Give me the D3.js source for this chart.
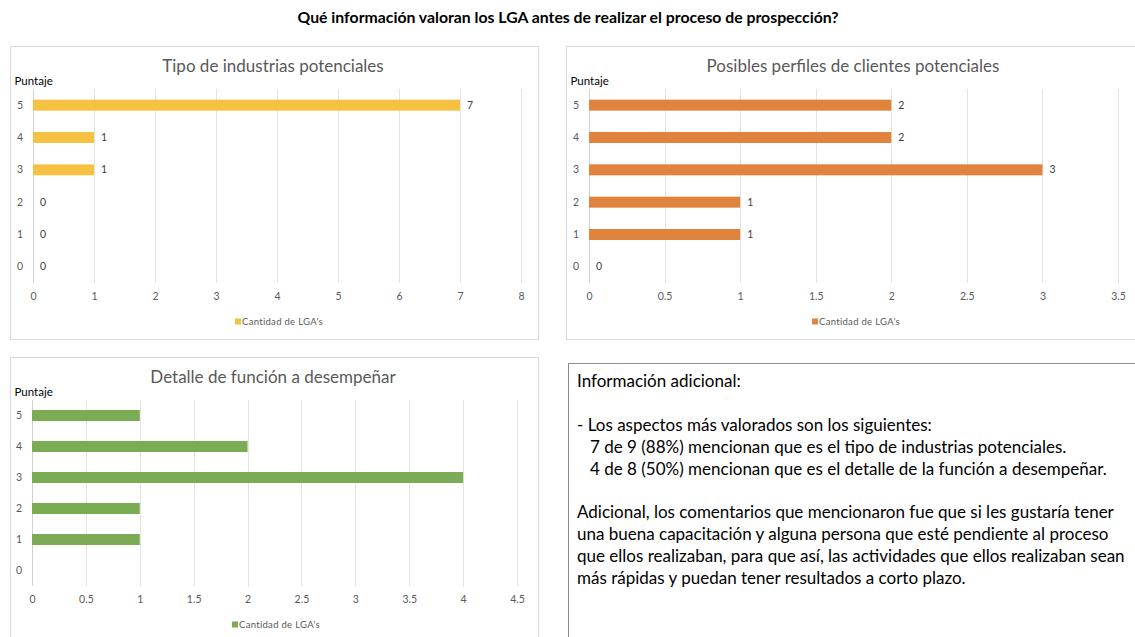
<!DOCTYPE html>
<html><head><meta charset="utf-8">
<script src="https://cdn.jsdelivr.net/npm/d3@7"></script>
<style>
body{margin:0;background:#fff;}
svg{display:block;font-family:Lato,"Open Sans",sans-serif;}
</style></head>
<body>
<svg id="c" width="1135" height="637"></svg>
<script>
const categories = ["5","4","3","2","1","0"];
const industrias = [7,1,1,0,0,0];
const perfiles = [2,2,3,1,1,0];
const funcion = [1,2,4,1,1,0];
const ticksA = [0,1,2,3,4,5,6,7,8];
const ticksB = [0,0.5,1,1.5,2,2.5,3,3.5];
const ticksC = [0,0.5,1,1.5,2,2.5,3,3.5,4,4.5];
const mainTitle = "Qué información valoran los LGA antes de realizar el proceso de prospección?";
const legendLabel = "Cantidad de LGA's";
const infoLines = [
  "Información adicional:",
  "",
  "- Los aspectos más valorados son los siguientes:",
  "   7 de 9 (88%) mencionan que es el tipo de industrias potenciales.",
  "   4 de 8 (50%) mencionan que es el detalle de la función a desempeñar.",
  "",
  "Adicional, los comentarios que mencionaron fue que si les gustaría tener",
  "una buena capacitación y alguna persona que esté pendiente al proceso",
  "que ellos realizaban, para que así, las actividades que ellos realizaban sean",
  "más rápidas y puedan tener resultados a corto plazo."
];

const svg = d3.select("#c");

svg.append("text").attr("x",568).attr("y",23).attr("text-anchor","middle")
  .attr("font-size",15.8).attr("font-weight","bold").attr("fill","#000").text(mainTitle);

function panel(o){
  const g = svg.append("g");
  g.append("rect").attr("x",o.box[0]).attr("y",o.box[1]).attr("width",o.box[2]).attr("height",o.box[3])
    .attr("fill","#fff").attr("stroke","#d9d9d9").attr("stroke-width",1);
  g.append("text").attr("x",o.titleX).attr("y",o.titleY).attr("text-anchor","middle")
    .attr("font-size",17).attr("fill","#595959").text(o.title);
  g.append("text").attr("x",o.box[0]+4).attr("y",o.titleY+13).attr("font-size",11.5)
    .attr("fill","#000").text("Puntaje");
  const x = d3.scaleLinear().domain(o.domain).range(o.xr);
  const y = d3.scaleBand().domain(categories).range(o.yr);
  g.selectAll("line.grid").data(o.ticks).join("line")
    .attr("x1",d=>Math.round(x(d))+0.5).attr("x2",d=>Math.round(x(d))+0.5)
    .attr("y1",o.yr[0]).attr("y2",o.yr[1]).attr("stroke",(d,i)=>i===0?"#d0d0d0":"#e3e3e3").attr("stroke-width",1);
  const xa = g.append("g").attr("transform",`translate(0,${o.yr[1]})`)
    .call(d3.axisBottom(x).tickValues(o.ticks).tickSize(0).tickPadding(10).tickFormat(d=>String(d)));
  xa.select(".domain").remove();
  xa.selectAll("text").attr("font-size",10.5).attr("fill","#595959").attr("font-family","Lato,'Open Sans',sans-serif");
  const ya = g.append("g").attr("transform",`translate(${o.xr[0]},0)`)
    .call(d3.axisLeft(y).tickSize(0).tickPadding(10));
  ya.select(".domain").remove();
  ya.selectAll("text").attr("font-size",10.5).attr("fill","#595959").attr("font-family","Lato,'Open Sans',sans-serif");
  const bh = o.barH;
  g.selectAll("rect.bar").data(o.values).join("rect")
    .attr("x",x(0)).attr("y",(d,i)=>y(categories[i])+y.bandwidth()/2-bh/2)
    .attr("width",d=>x(d)-x(0)).attr("height",bh).attr("fill",o.color);
  if(o.labels){
    g.selectAll("text.lab").data(o.values).join("text")
      .attr("x",d=>x(d)+7).attr("y",(d,i)=>y(categories[i])+y.bandwidth()/2+3.5)
      .attr("font-size",10.5).attr("fill","#404040").text(d=>d);
  }
  g.append("rect").attr("x",o.legend[0]).attr("y",o.legend[1]-6.5).attr("width",6).attr("height",6).attr("fill",o.color);
  g.append("text").attr("x",o.legend[0]+7).attr("y",o.legend[1]).attr("font-size",9.5)
    .attr("letter-spacing",0.3).attr("fill","#595959").text(legendLabel);
}

panel({box:[10.5,46.5,528,293], title:"Tipo de industrias potenciales", titleX:273, titleY:72,
  domain:[0,8], xr:[33,521], yr:[89,283], ticks:ticksA, values:industrias, color:"#F4C143",
  barH:11, labels:true, legend:[235,325]});
panel({box:[566.5,46.5,580,293], title:"Posibles perfiles de clientes potenciales", titleX:853, titleY:72,
  domain:[0,3.5], xr:[589,1118], yr:[89,283], ticks:ticksB, values:perfiles, color:"#E0833F",
  barH:11, labels:true, legend:[812,325]});
panel({box:[10.5,357.5,528,290], title:"Detalle de función a desempeñar", titleX:273, titleY:383,
  domain:[0,4.5], xr:[32,517], yr:[400,586], ticks:ticksC, values:funcion, color:"#7BAB55",
  barH:11, labels:false, legend:[232,628]});

svg.append("rect").attr("x",568.5).attr("y",363.5).attr("width",580).attr("height",290)
  .attr("fill","#fff").attr("stroke","#8c8c8c").attr("stroke-width",1);
svg.append("g").selectAll("text").data(infoLines).join("text")
  .attr("x",577).attr("y",(d,i)=>387+i*21.9).attr("font-size",17).attr("fill","#000")
  .attr("xml:space","preserve").style("white-space","pre").text(d=>d);
</script>
</body></html>
